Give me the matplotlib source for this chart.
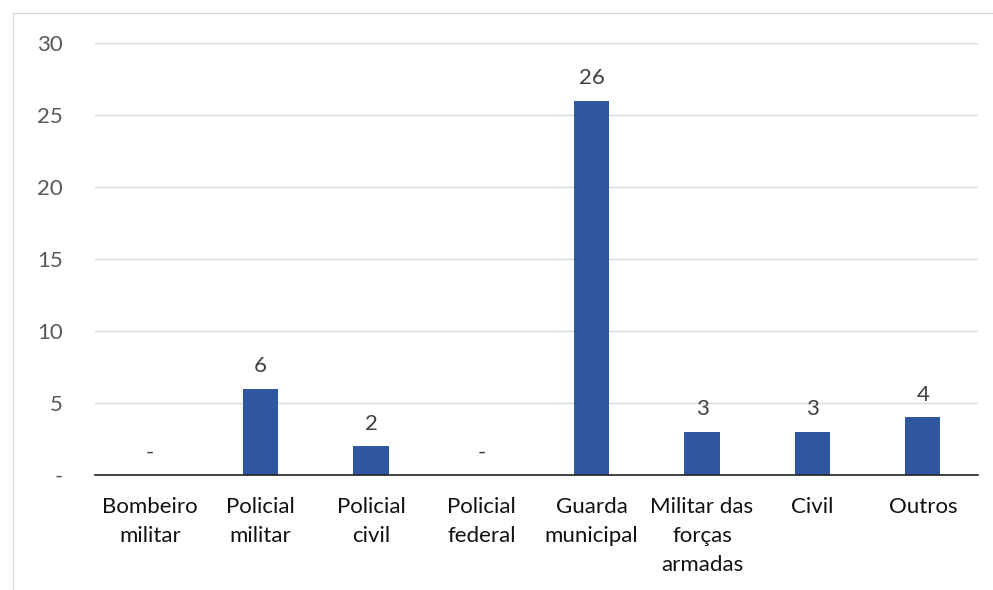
import matplotlib.pyplot as plt
from matplotlib.lines import Line2D

# --- DATA ---
categories = ['Bombeiro\nmilitar', 'Policial\nmilitar', 'Policial\ncivil', 'Policial\nfederal',
              'Guarda\nmunicipal', 'Militar das\nforças\narmadas', 'Civil', 'Outros']
values = [0, 6, 2, 0, 26, 3, 3, 4]
y_ticks = [0, 5, 10, 15, 20, 25, 30]
y_tick_labels = ['-', '5', '10', '15', '20', '25', '30']

BAR_COLOR = '#2f58a0'
FS = 16
plt.rcParams['font.family'] = ['Lato', 'DejaVu Sans']

fig = plt.figure(figsize=(9.93, 5.9), dpi=100)
ax = fig.add_axes([95 / 993, 115 / 590, 883 / 993, 432 / 590])

x = list(range(len(categories)))
ax.bar(x, values, width=0.32, color=BAR_COLOR, zorder=3)

# data labels, "-" for zero
for xi, v in zip(x, values):
    ax.annotate('-' if v == 0 else str(v), (xi, v), xytext=(0, 9), textcoords='offset points',
                ha='center', va='bottom', fontsize=FS, color='#404040')

ax.set_xlim(-0.5, 7.5)
ax.set_ylim(0, 30)
ax.set_yticks(y_ticks)
ax.set_yticklabels(y_tick_labels, fontsize=FS, color='#595959')
ax.set_xticks(x)
ax.set_xticklabels(categories, fontsize=FS, color='#111111', linespacing=1.55)
ax.tick_params(axis='y', length=0, pad=23)
ax.tick_params(axis='x', length=0, pad=16)
ax.yaxis.grid(True, color='#d9d9d9', linewidth=1, zorder=0)
for s in ['top', 'right', 'left']:
    ax.spines[s].set_visible(False)
ax.spines['bottom'].set_color('#222222')
ax.spines['bottom'].set_linewidth(1.2)
ax.spines['bottom'].set_zorder(4)

# outer chart frame (cropped)
fig.add_artist(Line2D([13 / 993, 13 / 993], [0, 1 - 13 / 590], color='#d9d9d9', linewidth=1))
fig.add_artist(Line2D([13 / 993, 1], [1 - 13 / 590, 1 - 13 / 590], color='#d9d9d9', linewidth=1))

fig.savefig('out.png', dpi=100)
